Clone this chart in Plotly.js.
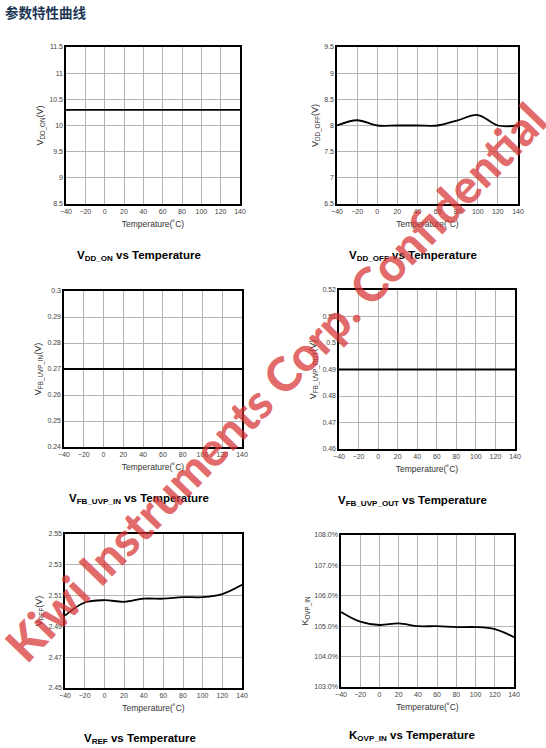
<!DOCTYPE html>
<html>
<head>
<meta charset="utf-8">
<script src="https://cdn.plot.ly/plotly-3.0.1.min.js"></script>
<style>
html,body{margin:0;padding:0;background:#fff;}
#chart{width:546px;height:748px;}
</style>
</head>
<body>
<div id="chart"></div>
<script>
// ---- data ----
var temps = [-40, -20, 0, 20, 40, 60, 80, 100, 120, 140];
var vddOn = [10.3, 10.3, 10.3, 10.3, 10.3, 10.3, 10.3, 10.3, 10.3, 10.3];
var vddOff = [8.0, 8.1, 8.0, 8.0, 8.0, 8.0, 8.1, 8.2, 8.0, 8.0];
var vfbUvpIn = [0.27, 0.27, 0.27, 0.27, 0.27, 0.27, 0.27, 0.27, 0.27, 0.27];
var vfbUvpOut = [0.49, 0.49, 0.49, 0.49, 0.49, 0.49, 0.49, 0.49, 0.49, 0.49];
var vref = [2.497, 2.5055, 2.507, 2.506, 2.508, 2.508, 2.509, 2.509, 2.511, 2.517];
var kovpIn = [1.0547, 1.0515, 1.0504, 1.0509, 1.0500, 1.0500, 1.0497, 1.0497, 1.0490, 1.0464];

var seriesList = [vddOn, vddOff, vfbUvpIn, vfbUvpOut, vref, kovpIn];
var yTitles = ['V<sub>DD_ON</sub>(V)', 'V<sub>DD_OFF</sub>(V)', 'V<sub>FB_UVP_IN</sub>(V)',
               'V<sub>FB_UVP_OUT</sub>(V)', 'V<sub>REF</sub>(V)', 'K<sub>OVP_IN</sub>'];
var chartTitles = ['V<sub>DD_ON</sub> vs Temperature', 'V<sub>DD_OFF</sub> vs Temperature',
                   'V<sub>FB_UVP_IN</sub> vs Temperature', 'V<sub>FB_UVP_OUT</sub> vs Temperature',
                   'V<sub>REF</sub> vs Temperature', 'K<sub>OVP_IN</sub> vs Temperature'];
var yRanges = [[8.5, 11.5], [6.5, 9.5], [0.24, 0.30], [0.46, 0.52], [2.45, 2.55], [1.03, 1.08]];
var yDticks = [0.5, 0.5, 0.01, 0.01, 0.02, 0.01];
var yFormats = ['', '', '', '', '', '.1%'];
var xTitle = 'Temperature(˚C)';
var pageTitle = '参数特性曲线';
var watermark = 'Kiwi Instruments Corp. Confidential';

// ---- layout geometry (pixels) ----
var W = 546, H = 748;
var boxes = [
  [66, 240, 47, 204],
  [337, 518, 47, 204],
  [64, 242, 291, 447],
  [339, 515, 290, 449],
  [65, 242, 534, 688],
  [341, 514, 535, 687]
];
var chartTitlePos = [[139, 256], [413, 256], [139, 499], [412, 501], [140, 739], [412, 736]];

var traces = [];
var layout = {
  width: W, height: H,
  margin: {l: 0, r: 0, t: 0, b: 0},
  paper_bgcolor: '#fff', plot_bgcolor: '#fff',
  showlegend: false,
  font: {family: 'Liberation Sans, Arial, sans-serif', color: '#333'},
  annotations: [],
  shapes: []
};

for (var i = 0; i < 6; i++) {
  var n = i + 1;
  var xa = 'x' + (n === 1 ? '' : n), ya = 'y' + (n === 1 ? '' : n);
  traces.push({
    x: temps, y: seriesList[i], xaxis: xa, yaxis: ya,
    type: 'scatter', mode: 'lines',
    line: {color: '#000', width: 1.8, shape: 'spline', smoothing: 1},
    hoverinfo: 'skip'
  });
  var b = boxes[i];
  var xkey = 'xaxis' + (n === 1 ? '' : n), ykey = 'yaxis' + (n === 1 ? '' : n);
  layout[xkey] = {
    domain: [b[0] / W, b[1] / W],
    anchor: ya,
    range: [-40, 140], tick0: -40, dtick: 20,
    showgrid: true, gridcolor: '#b4b4b4', gridwidth: 1,
    zeroline: false,
    showline: true, linecolor: '#000', linewidth: 1.6, mirror: true,
    ticks: '', ticklen: 0,
    tickfont: {size: 7, color: '#444'},
    title: {text: xTitle, font: {size: 8.5, color: '#333'}, standoff: 7}
  };
  layout[ykey] = {
    domain: [1 - b[3] / H, 1 - b[2] / H],
    anchor: xa,
    range: yRanges[i], tick0: yRanges[i][0], dtick: yDticks[i],
    tickformat: yFormats[i],
    showgrid: true, gridcolor: '#b4b4b4', gridwidth: 1,
    zeroline: false,
    showline: true, linecolor: '#000', linewidth: 1.6, mirror: true,
    ticks: '', ticklen: 0,
    tickfont: {size: 7, color: '#444'},
    title: {text: yTitles[i], font: {size: 9, color: '#333'}, standoff: 4}
  };
  layout.annotations.push({
    xref: 'paper', yref: 'paper',
    x: chartTitlePos[i][0] / W, y: 1 - chartTitlePos[i][1] / H,
    xanchor: 'center', yanchor: 'middle',
    text: '<b>' + chartTitles[i] + '</b>',
    showarrow: false,
    font: {size: 11.5, color: '#000', family: 'Liberation Sans, Arial, sans-serif'}
  });
}

layout.annotations.push({
  xref: 'paper', yref: 'paper', x: 3 / W, y: 1 - 12 / H,
  xanchor: 'left', yanchor: 'middle',
  text: '<b>' + pageTitle + '</b>', showarrow: false,
  font: {size: 13.5, color: '#1c3554', family: 'Noto Sans CJK SC, sans-serif'}
});

layout.annotations.push({
  xref: 'paper', yref: 'paper', x: 275 / W, y: 1 - 382 / H,
  xanchor: 'center', yanchor: 'middle',
  text: watermark, showarrow: false,
  textangle: -46,
  font: {size: 47, weight: 900, color: 'rgba(215,50,50,0.72)', family: 'Lato, Liberation Sans, sans-serif'}
});

Plotly.newPlot('chart', traces, layout, {staticPlot: true, displayModeBar: false});
</script>
</body>
</html>
